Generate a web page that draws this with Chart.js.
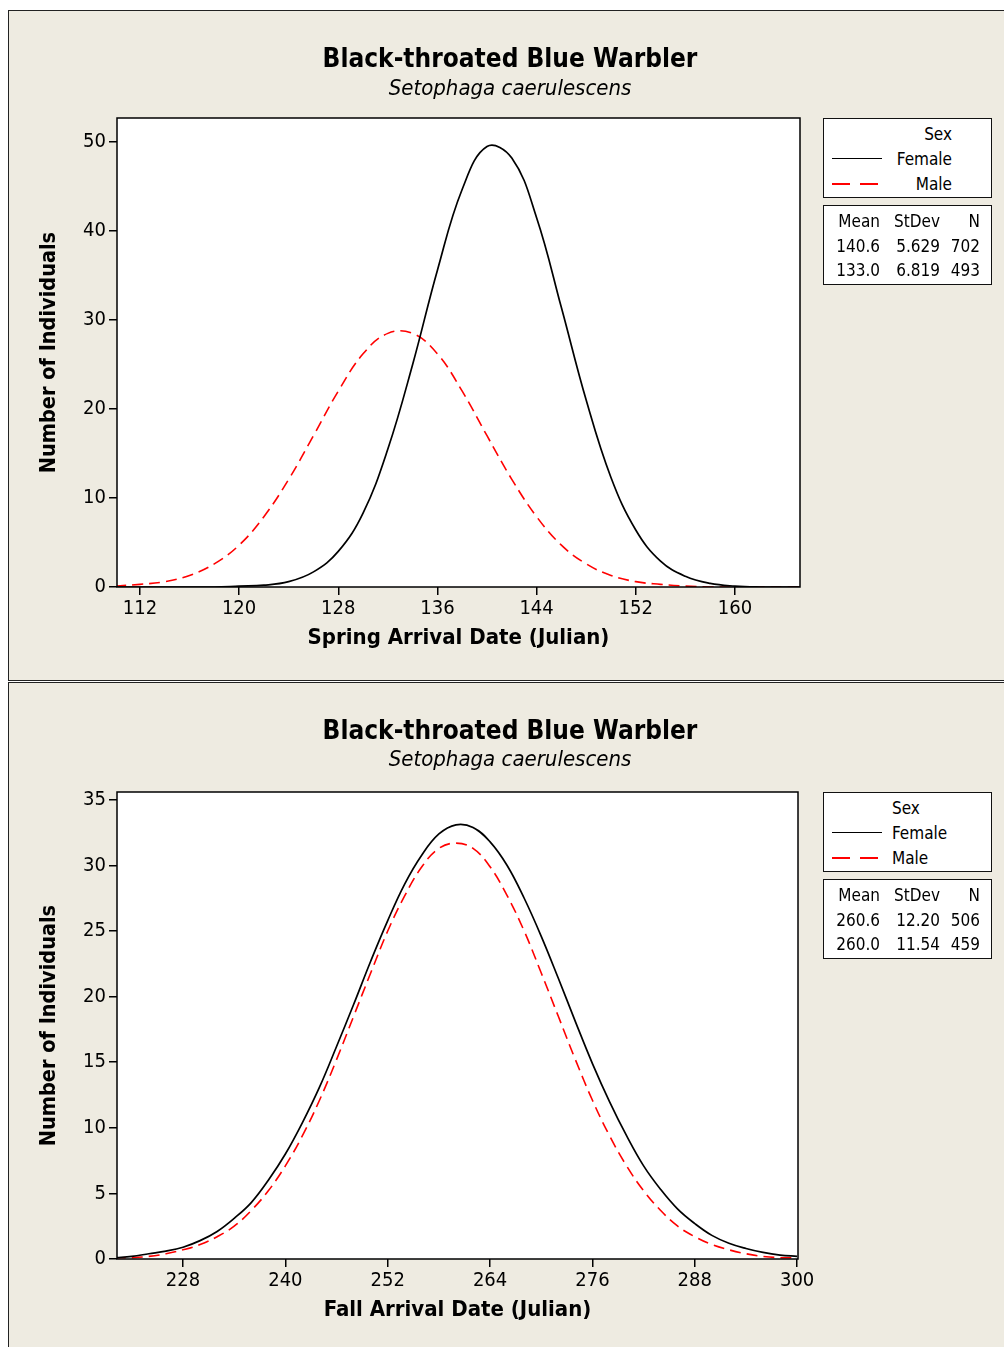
<!DOCTYPE html>
<html lang="en">
<head>
    <meta charset="UTF-8">
    <title>Black-throated Blue Warbler arrival dates</title>
    <style>
        body {
            margin: 0;
            width: 1004px;
            height: 1347px;
            overflow: hidden;
            background: #fff;
            position: relative;
            font-family: 'DejaVu Sans Condensed', 'DejaVu Sans', sans-serif;
            color: #000;
        }
        .panel {
            position: absolute;
            left: 8px;
            width: 1010px;
            background: #eeebe1;
            border: 1.5px solid #222;
            box-sizing: border-box;
        }
        canvas { position: absolute; left: 8px; }
        .title, .subtitle {
            position: absolute;
            left: 0;
            width: 1020px;
            text-align: center;
            line-height: 30px;
        }
        .title { font-weight: bold; font-size: 26px; }
        .subtitle { font-style: italic; font-size: 22px; }
        .box {
            position: absolute;
            left: 823px;
            width: 169px;
            height: 80px;
            background: #fff;
            border: 1.5px solid #111;
            box-sizing: border-box;
            font-size: 17px;
        }
        .row { position: absolute; left: 0; width: 100%; height: 24px; line-height: 24px; }
        .row span { position: absolute; top: 0; }
        .swatch { position: absolute; left: 8px; width: 50px; top: 11px; height: 0; }
        .solid { border-top: 1.5px solid #000; }
        .dashed {
            border: none;
            height: 2px;
            top: 11px;
            background: repeating-linear-gradient(90deg, #ff0000 0 18px, transparent 18px 28px);
            width: 46px;
        }
    </style>
</head>
<body>
    <div class="panel" style="top:10px;height:671px;"></div>
    <div class="panel" style="top:682px;height:680px;"></div>

    <canvas id="spring" width="996" height="670" style="top:10px;"></canvas>
    <canvas id="fall" width="996" height="665" style="top:682px;"></canvas>

    <div class="title" style="top:43px;">Black-throated Blue Warbler</div>
    <div class="subtitle" style="top:73px;">Setophaga caerulescens</div>
    <div class="title" style="top:715px;">Black-throated Blue Warbler</div>
    <div class="subtitle" style="top:744px;">Setophaga caerulescens</div>

    <!-- legend + stats, spring -->
    <div class="box" style="top:118px;">
        <div class="row" style="top:3px;"><span style="right:39px;">Sex</span></div>
        <div class="row" style="top:28px;"><div class="swatch solid"></div><span style="right:39px;">Female</span></div>
        <div class="row" style="top:53px;"><div class="swatch dashed"></div><span style="right:39px;">Male</span></div>
    </div>
    <div class="box" style="top:205px;" id="springStats"></div>

    <!-- legend + stats, fall -->
    <div class="box" style="top:792px;">
        <div class="row" style="top:3px;"><span style="left:68px;">Sex</span></div>
        <div class="row" style="top:28px;"><div class="swatch solid"></div><span style="left:68px;">Female</span></div>
        <div class="row" style="top:53px;"><div class="swatch dashed"></div><span style="left:68px;">Male</span></div>
    </div>
    <div class="box" style="top:879px;" id="fallStats"></div>

    <script src="https://cdn.jsdelivr.net/npm/chart.js"></script>
    <script>
        // spring arrival, values every 2 days
        const springDays = [110, 112, 114, 116, 118, 120, 122, 124, 126, 128, 130, 132, 134, 136, 138,
                            140, 142, 144, 146, 148, 150, 152, 154, 156, 158, 160, 162, 164, 166];
        const springFemale = [0, 0, 0, 0, 0, 0.1, 0.2, 0.6, 1.7, 4.0, 8.3, 15.5, 25.0, 35.6, 44.7,
                              49.5, 48.2, 41.5, 31.4, 21.0, 12.3, 6.4, 2.9, 1.2, 0.4, 0.1, 0, 0, 0];
        const springMale = [0.1, 0.3, 0.6, 1.3, 2.6, 4.7, 7.9, 12.1, 17.0, 22.0, 26.2, 28.5, 28.5, 26.2, 22.0,
                            17.0, 12.1, 7.9, 4.7, 2.6, 1.3, 0.6, 0.3, 0.1, 0, 0, 0, 0, 0];

        // fall arrival
        const fallDays = [220, 222, 224, 226, 228, 230, 232, 234, 236, 238, 240, 242, 244, 246, 248, 250,
                          252, 254, 256, 258, 260, 262, 264, 266, 268, 270, 272, 274, 276, 278, 280, 282,
                          284, 286, 288, 290, 292, 294, 296, 298, 300];
        const fallFemale = [0.1, 0.2, 0.4, 0.6, 0.9, 1.4, 2.1, 3.1, 4.3, 6.0, 8.0, 10.4, 13.1, 16.2, 19.4, 22.7,
                            25.8, 28.6, 30.8, 32.4, 33.1, 32.9, 31.8, 30.0, 27.5, 24.6, 21.4, 18.1, 14.9, 12.0, 9.4, 7.1,
                            5.3, 3.8, 2.7, 1.8, 1.2, 0.8, 0.5, 0.3, 0.2];
        const fallMale = [0.1, 0.1, 0.2, 0.4, 0.7, 1.1, 1.7, 2.5, 3.7, 5.2, 7.1, 9.4, 12.1, 15.2, 18.5, 21.8,
                          25.0, 27.7, 29.9, 31.3, 31.7, 31.3, 29.9, 27.7, 25.0, 21.8, 18.5, 15.2, 12.1, 9.4, 7.1, 5.2,
                          3.7, 2.5, 1.7, 1.1, 0.7, 0.4, 0.2, 0.1, 0.1];

        // summary tables (Mean, StDev, N)
        const statsHeader = ['Mean', 'StDev', 'N'];
        const springStats = [['140.6', '5.629', '702'], ['133.0', '6.819', '493']];
        const fallStats = [['260.6', '12.20', '506'], ['260.0', '11.54', '459']];

        function fillStats(id, rows) {
            const box = document.getElementById(id);
            const rights = [111, 51, 11]; // right offsets of the three columns
            [statsHeader].concat(rows).forEach((r, i) => {
                const row = document.createElement('div');
                row.className = 'row';
                row.style.top = (3 + i * 24.5) + 'px';
                r.forEach((txt, j) => {
                    const s = document.createElement('span');
                    s.textContent = txt;
                    s.style.right = rights[j] + 'px';
                    row.appendChild(s);
                });
                box.appendChild(row);
            });
        }
        fillStats('springStats', springStats);
        fillStats('fallStats', fallStats);

        Chart.defaults.font.family = "'DejaVu Sans Condensed', 'DejaVu Sans', sans-serif";
        Chart.defaults.color = '#000';

        // white plot area and black frame
        const plotFrame = {
            id: 'plotFrame',
            beforeDraw(chart) {
                const { ctx, chartArea: a } = chart;
                ctx.save();
                ctx.fillStyle = '#fff';
                ctx.fillRect(a.left, a.top, a.width, a.height);
                ctx.restore();
            },
            afterDraw(chart) {
                const { ctx, chartArea: a } = chart;
                ctx.save();
                ctx.strokeStyle = '#000';
                ctx.lineWidth = 1.5;
                ctx.strokeRect(a.left, a.top, a.width, a.height);
                ctx.restore();
            }
        };

        function makeChart(id, days, female, male, o) {
            const axisGrid = { drawOnChartArea: false, drawTicks: true, tickLength: 8, color: '#000', lineWidth: 1.5 };
            return new Chart(document.getElementById(id), {
                type: 'line',
                data: {
                    datasets: [
                        {
                            label: 'Female',
                            data: days.map((d, i) => ({ x: d, y: female[i] })),
                            borderColor: '#000',
                            borderWidth: 1.7,
                            pointRadius: 0,
                            tension: 0.4
                        },
                        {
                            label: 'Male',
                            data: days.map((d, i) => ({ x: d, y: male[i] })),
                            borderColor: '#ff0000',
                            borderWidth: 1.6,
                            borderDash: [11, 6],
                            pointRadius: 0,
                            tension: 0.4
                        }
                    ]
                },
                options: {
                    responsive: false,
                    animation: false,
                    devicePixelRatio: 1,
                    layout: { padding: { left: 0, top: o.top, right: 996 - o.right, bottom: 0 } },
                    plugins: { legend: { display: false }, tooltip: { enabled: false } },
                    scales: {
                        x: {
                            type: 'linear',
                            min: o.xMin,
                            max: o.xMax,
                            grid: axisGrid,
                            border: { display: false },
                            ticks: { stepSize: o.xStep, includeBounds: false, padding: 2, font: { size: 20 }, maxRotation: 0 },
                            title: { display: true, text: o.xTitle, font: { size: 22, weight: 'bold' }, padding: { top: 0, bottom: o.xTitlePad } },
                            afterFit(s) { s.height = o.xAxisH; }
                        },
                        y: {
                            min: 0,
                            max: o.yMax,
                            grid: axisGrid,
                            border: { display: false },
                            ticks: { stepSize: o.yStep, includeBounds: false, padding: 3, font: { size: 20 } },
                            title: { display: true, text: 'Number of Individuals', font: { size: 21.5, weight: 'bold' }, padding: { top: 29, bottom: 0 } },
                            afterFit(s) { s.width = 109; }
                        }
                    }
                },
                plugins: [plotFrame]
            });
        }

        makeChart('spring', springDays, springFemale, springMale, {
            top: 108, right: 792, xMin: 110.15, xMax: 165.25, xStep: 8,
            yMax: 52.7, yStep: 10, xAxisH: 93, xTitlePad: 29,
            xTitle: 'Spring Arrival Date (Julian)'
        });
        makeChart('fall', fallDays, fallFemale, fallMale, {
            top: 110, right: 790, xMin: 220.26, xMax: 300.1, xStep: 12,
            yMax: 35.6, yStep: 5, xAxisH: 88, xTitlePad: 24,
            xTitle: 'Fall Arrival Date (Julian)'
        });
    </script>
</body>
</html>
